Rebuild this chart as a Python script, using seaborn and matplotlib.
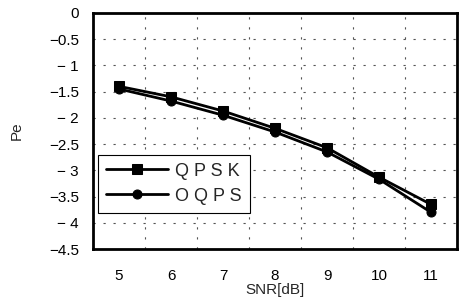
import numpy as np
import pandas as pd
import matplotlib
matplotlib.use("Agg")
import matplotlib.pyplot as plt
import seaborn as sns

# Data
snr_db = [5, 6, 7, 8, 9, 10, 11]
pe_qpsk = [-1.40, -1.60, -1.87, -2.20, -2.57, -3.13, -3.65]
pe_oqps = [-1.45, -1.68, -1.95, -2.27, -2.65, -3.17, -3.80]
series_names = ["Q P S K", "O Q P S"]
y_ticks = [0, -0.5, -1, -1.5, -2, -2.5, -3, -3.5, -4, -4.5]
y_tick_labels = ["0", "\u22120.5", "\u2212 1", "\u22121.5", "\u2212 2",
                 "\u22122.5", "\u2212 3", "\u22123.5", "\u2212 4", "\u22124.5"]

df = pd.DataFrame({
    "SNR": snr_db * 2,
    "Pe": pe_qpsk + pe_oqps,
    "scheme": [series_names[0]] * len(snr_db) + [series_names[1]] * len(snr_db),
})

sns.set_style("white")
plt.rcParams["font.family"] = ["Liberation Sans", "DejaVu Sans"]

fig = plt.figure(figsize=(4.65, 3.06), dpi=100)
ax = fig.add_axes([0.2, 0.186, 0.783, 0.772])

sns.lineplot(
    data=df, x="SNR", y="Pe", hue="scheme", style="scheme",
    palette=["black", "black"], markers={series_names[0]: "s", series_names[1]: "o"},
    dashes=False, linewidth=2, markersize=6.5, markeredgecolor="black", ax=ax,
)

ax.set_xlim(4.5, 11.5)
ax.set_ylim(-4.5, 0)
ax.set_xticks(snr_db)
ax.set_yticks(y_ticks)
ax.set_yticklabels(y_tick_labels)
ax.tick_params(axis="both", which="both", length=0, labelsize=11, colors="black")
ax.tick_params(axis="x", pad=14)
ax.tick_params(axis="y", pad=10)

# sparse dashed grid like the scanned chart
for y in y_ticks[1:-1]:
    ax.axhline(y, color="#555555", lw=0.8, ls=(0, (2, 7)), zorder=0)
for x in np.arange(5.5, 11, 1):
    ax.axvline(x, color="#555555", lw=0.8, ls=(0, (2, 7)), zorder=0)

for side in ax.spines:
    ax.spines[side].set_visible(True)
    ax.spines[side].set_color("black")
    ax.spines[side].set_linewidth(2)

ax.set_xlabel("SNR[dB]", fontsize=11, labelpad=0)
ax.set_ylabel("Pe", fontsize=11, labelpad=18)

leg = ax.legend(
    loc="lower left", bbox_to_anchor=(0.014, 0.153), borderaxespad=0,
    fancybox=False, edgecolor="black", framealpha=1, fontsize=13,
    handlelength=3.4, borderpad=0.45, labelspacing=0.45, handletextpad=0.4,
)
leg.get_frame().set_linewidth(0.8)

fig.savefig("out.png", dpi=100)
